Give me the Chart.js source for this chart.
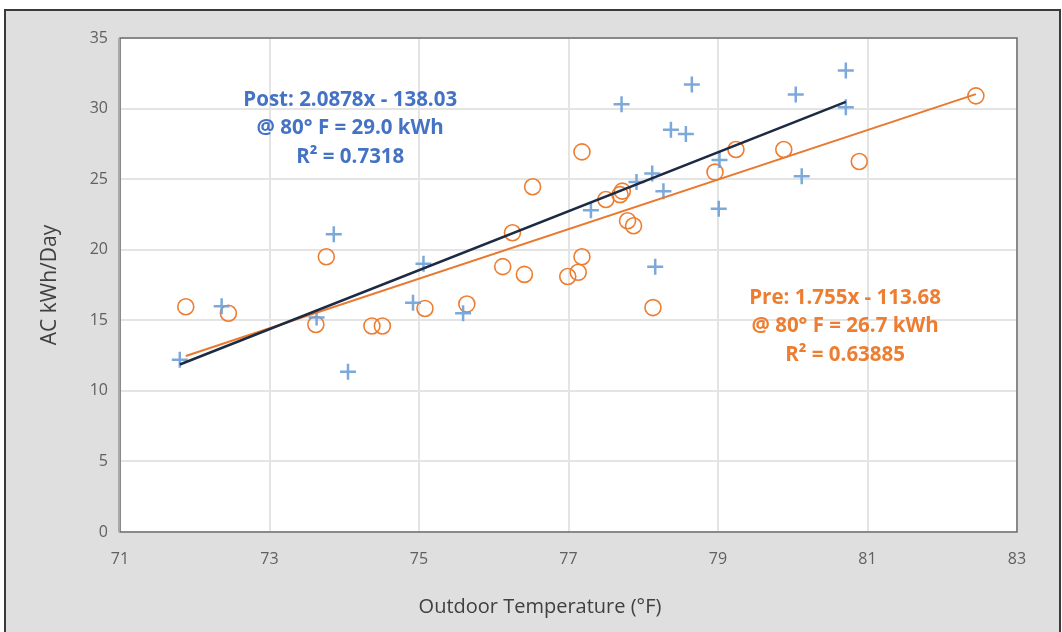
<!DOCTYPE html>
<html>
<head>
<meta charset="utf-8">
<script src="https://cdn.jsdelivr.net/npm/chart.js@4"></script>
<style>
  html, body { margin: 0; padding: 0; background: #fff; }
  #wrap { width: 1062px; height: 632px; }
</style>
</head>
<body>
<div id="wrap"><canvas id="ac_temp" width="1062" height="632"></canvas></div>
<script>
// Post retrofit readings (outdoor temp °F, AC kWh/day)
const postTemp = [71.80, 72.36, 73.86, 73.63, 74.05, 75.06, 74.92, 75.59, 77.30, 77.71, 77.91, 78.12,
                  78.16, 78.27, 78.37, 78.57, 78.65, 79.02, 79.01, 80.04, 80.12, 80.71, 80.71];
const postKwh  = [12.2, 16.0, 21.1, 15.2, 11.35, 19.0, 16.25, 15.5, 22.8, 30.3, 24.8, 25.4,
                  18.8, 24.15, 28.5, 28.2, 31.7, 26.35, 22.9, 31.0, 25.2, 32.7, 30.1];

// Pre retrofit readings
const preTemp = [71.88, 72.45, 73.76, 73.62, 74.37, 74.51, 75.08, 75.64, 77.18, 76.52, 76.25, 76.12,
                 76.41, 77.18, 77.13, 76.99, 77.50, 77.69, 77.72, 77.79, 77.87, 78.13, 78.96, 79.24,
                 79.88, 80.89, 82.45];
const preKwh  = [15.96, 15.5, 19.5, 14.7, 14.6, 14.6, 15.84, 16.15, 26.93, 24.46, 21.2, 18.8,
                 18.25, 19.5, 18.4, 18.1, 23.56, 23.9, 24.15, 22.05, 21.7, 15.9, 25.5, 27.1,
                 27.1, 26.25, 30.9];

// trendline end points
const postTrendX = [71.80, 80.71];
const postTrendY = [11.87, 30.48];
const preTrendX = [71.88, 82.45];
const preTrendY = [12.47, 31.02];

const xTicks = [71, 73, 75, 77, 79, 81, 83];

const xTitle = 'Outdoor Temperature (°F)';
const yTitle = 'AC kWh/Day';
const postNote = ['Post: 2.0878x - 138.03', '@ 80° F = 29.0 kWh', 'R² = 0.7318'];
const preNote = ['Pre: 1.755x - 113.68', '@ 80° F = 26.7 kWh', 'R² = 0.63885'];

const pts = (xs, ys) => xs.map((x, i) => ({x: x, y: ys[i]}));
const tickFont = {family: '"Liberation Sans Narrow", "Open Sans", sans-serif', size: 16};

const frame = {
    id: 'frame',
    beforeDraw(chart) {
        const c = chart.ctx;
        c.save();
        c.fillStyle = '#ffffff';
        c.fillRect(0, 0, chart.width, chart.height);
        c.fillStyle = '#dfdfdf';
        c.fillRect(5, 10, 1055, 630);
        c.strokeStyle = '#3a3a3a';
        c.lineWidth = 2;
        c.strokeRect(5, 10, 1055, 630);
        const a = chart.chartArea;
        c.fillStyle = '#ffffff';
        c.fillRect(a.left, a.top, a.right - a.left, a.bottom - a.top);
        c.restore();
    },
    afterDatasetsDraw(chart) {
        const c = chart.ctx;
        const a = chart.chartArea;
        c.save();
        c.strokeStyle = '#6b6b6b';
        c.lineWidth = 1.5;
        c.strokeRect(a.left, a.top, a.right - a.left, a.bottom - a.top);
        c.strokeStyle = '#a8a8a8';
        c.lineWidth = 2;
        c.beginPath();
        c.moveTo(a.left - 1, a.top);
        c.lineTo(a.left - 1, a.bottom);
        c.stroke();

        const xs = chart.scales.x, ys = chart.scales.y;
        c.textAlign = 'center';
        c.textBaseline = 'middle';
        c.font = 'bold 20.5px "Open Sans", sans-serif';
        c.fillStyle = '#4472C4';
        postNote.forEach((t, i) => c.fillText(t, xs.getPixelForValue(74.08), ys.getPixelForValue(30.6 - i * 2.02)));
        c.fillStyle = '#ED7D31';
        preNote.forEach((t, i) => c.fillText(t, xs.getPixelForValue(80.70), ys.getPixelForValue(16.57 - i * 2.02)));

        // axis titles
        c.fillStyle = '#404040';
        c.font = '20px "Open Sans", sans-serif';
        c.fillText(xTitle, 540, 607);
        c.translate(50, 285);
        c.rotate(-Math.PI / 2);
        c.font = '21px "Open Sans", sans-serif';
        c.fillText(yTitle, 0, 0);
        c.restore();
    }
};

const ctx = document.getElementById('ac_temp').getContext('2d');
new Chart(ctx, {
    type: 'scatter',
    data: {
        datasets: [
            {label: 'Post trend', data: pts(postTrendX, postTrendY), showLine: true, borderColor: '#1c2a44',
             borderWidth: 2.5, pointRadius: 0},
            {label: 'Pre trend', data: pts(preTrendX, preTrendY), showLine: true, borderColor: '#E8792F',
             borderWidth: 2, pointRadius: 0},
            {label: 'Post', data: pts(postTemp, postKwh), pointStyle: 'cross', pointRadius: 8,
             borderColor: 'rgba(110,160,214,0.9)', borderWidth: 2.5, backgroundColor: 'transparent'},
            {label: 'Pre', data: pts(preTemp, preKwh), pointStyle: 'circle', pointRadius: 8,
             borderColor: '#ED7D31', borderWidth: 1.6, backgroundColor: 'transparent'},
        ]
    },
    options: {
        responsive: false,
        animation: false,
        layout: {padding: {left: 40, right: 45, top: 38, bottom: 12}},
        plugins: {legend: {display: false}, tooltip: {enabled: false}},
        scales: {
            x: {
                type: 'linear', min: 71, max: 83,
                afterBuildTicks: s => { s.ticks = xTicks.map(v => ({value: v})); },
                afterFit: s => { s.height = 632 - 532 - 12; },
                grid: {color: '#e4e4e4', lineWidth: 2, drawTicks: false},
                border: {display: false},
                ticks: {padding: 18, color: '#606060', font: tickFont}
            },
            y: {
                min: 0, max: 35,
                ticks: {stepSize: 5, padding: 12, color: '#606060', font: tickFont},
                afterFit: s => { s.width = 120 - 40; },
                grid: {color: '#e4e4e4', lineWidth: 2, drawTicks: false},
                border: {display: false}
            }
        }
    },
    plugins: [frame]
});
</script>
</body>
</html>
